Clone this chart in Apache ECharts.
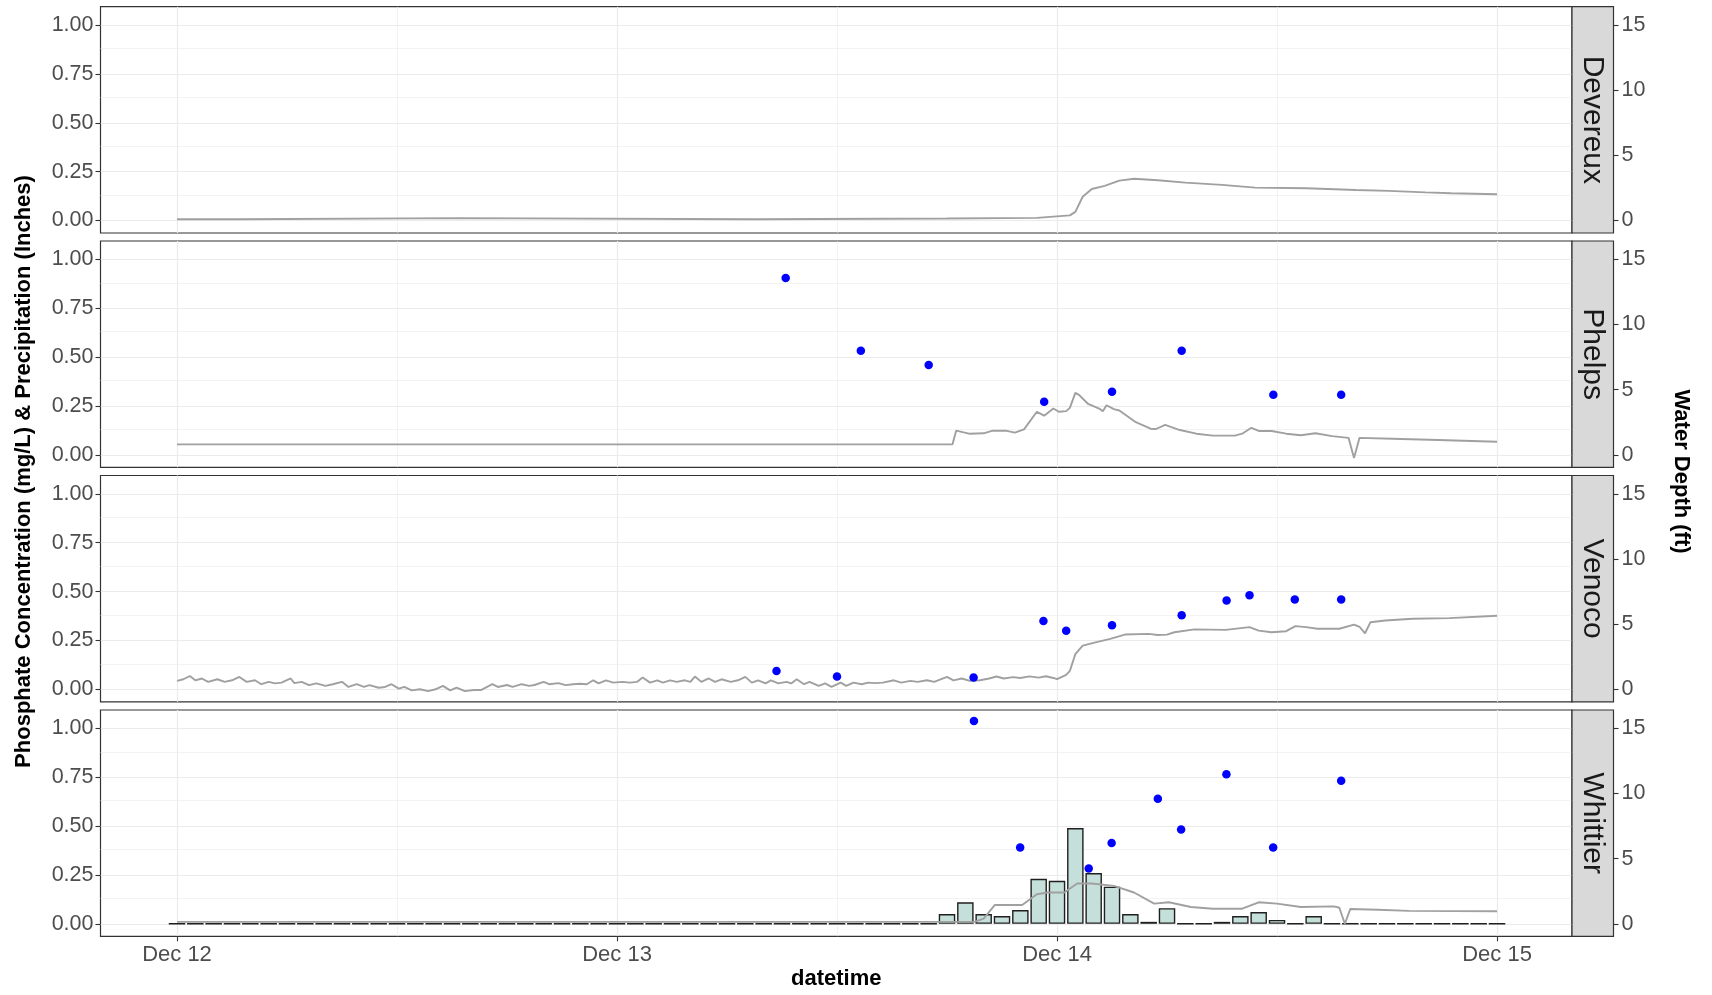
<!DOCTYPE html>
<html><head><meta charset="utf-8">
<script src="https://cdn.jsdelivr.net/npm/echarts@6/dist/echarts.min.js"></script>
<style>html,body{margin:0;padding:0;background:#fff}#c{width:1712px;height:995px}</style>
</head><body><div id="c"></div>
<script>
// ---------------- DATA ----------------
const sites = ['Devereux', 'Phelps', 'Venoco', 'Whittier'];
const xTickHours = [0, 24, 48, 72];            // hours since Dec 12 00:00
const xTickLabels = ['Dec 12', 'Dec 13', 'Dec 14', 'Dec 15'];
const yTicks = [0, 0.25, 0.5, 0.75, 1];
const depthTicks = [0, 5, 10, 15];

// Water depth (ft): [hours since Dec 12 00:00, depth]
const depthDevereux = [[0,0.09],[3.4,0.09],[3.5,0.18],[15.4,0.18],[15.5,0.09],[31.5,0.09],[31.6,0.15],[42,0.15],[46.9,0.2],[47,0.33],[48.7,0.39],[49.0,0.66],[49.4,1.82],[49.9,2.42],[50.6,2.66],[51.4,3.06],[52.2,3.2],[53.5,3.09],[55.0,2.91],[57.0,2.73],[58.8,2.52],[61.6,2.48],[64.3,2.34],[66.1,2.27],[68.1,2.16],[69.5,2.09],[72,2.01]];
const depthPhelps = [[0,0.8],[42.3,0.8],[42.5,1.85],[43.2,1.62],[44,1.65],[44.5,1.85],[45.2,1.85],[45.7,1.7],[46.2,1.95],[46.9,3.3],[47.3,3.0],[47.8,3.55],[48.1,3.3],[48.5,3.35],[48.7,3.6],[49.0,4.75],[49.2,4.6],[49.7,3.9],[50.3,3.55],[50.5,3.35],[50.7,3.8],[51.1,3.5],[51.4,3.4],[52.3,2.5],[53.1,2.0],[53.4,1.98],[53.9,2.3],[54.7,1.9],[55.6,1.62],[56.5,1.47],[57.7,1.47],[58.1,1.62],[58.6,2.07],[59.0,1.83],[59.7,1.83],[60.5,1.62],[61.3,1.5],[62.1,1.65],[63.0,1.43],[63.9,1.3],[64.2,-0.25],[64.5,1.3],[66.3,1.23],[68.8,1.14],[72,1.0]];
const depthVenoco = [[0,0.65],[0.35,0.77],[0.7,1.02],[1.0,0.69],[1.35,0.83],[1.7,0.57],[2.2,0.77],[2.6,0.57],[3.0,0.69],[3.4,0.95],[3.8,0.57],[4.25,0.69],[4.6,0.39],[5.0,0.57],[5.35,0.45],[5.7,0.51],[6.2,0.83],[6.4,0.47],[6.8,0.57],[7.2,0.32],[7.6,0.45],[8.1,0.26],[8.5,0.39],[9.0,0.57],[9.35,0.18],[9.8,0.39],[10.2,0.18],[10.5,0.32],[11.0,0.12],[11.35,0.18],[11.7,0.39],[12.1,0.05],[12.4,0.18],[12.8,-0.08],[13.25,0],[13.7,-0.14],[14.1,0],[14.5,0.26],[14.9,-0.08],[15.25,0.12],[15.7,-0.14],[16.2,-0.05],[16.6,-0.05],[17.2,0.39],[17.5,0.18],[18.0,0.33],[18.3,0.18],[18.8,0.39],[19.2,0.26],[19.5,0.33],[20.0,0.57],[20.3,0.39],[20.8,0.47],[21.2,0.32],[21.6,0.39],[22.0,0.43],[22.35,0.39],[22.7,0.69],[23.0,0.45],[23.4,0.69],[23.8,0.51],[24.3,0.57],[24.7,0.51],[25.1,0.57],[25.4,0.9],[25.8,0.51],[26.2,0.69],[26.5,0.51],[26.9,0.69],[27.25,0.57],[27.7,0.69],[28.0,0.57],[28.25,0.98],[28.6,0.57],[29.0,0.83],[29.35,0.57],[29.7,0.77],[30.2,0.57],[30.6,0.69],[31.0,0.95],[31.35,0.51],[31.7,0.69],[32.1,0.45],[32.4,0.69],[32.8,0.45],[33.25,0.57],[33.5,0.45],[33.8,0.77],[34.2,0.39],[34.5,0.57],[35.0,0.26],[35.35,0.45],[35.7,0.18],[36.2,0.51],[36.5,0.26],[36.9,0.51],[37.35,0.39],[37.7,0.51],[38.1,0.47],[38.5,0.51],[39.1,0.69],[39.5,0.51],[40.0,0.65],[40.4,0.57],[40.9,0.69],[41.3,0.57],[42.0,0.95],[42.35,0.69],[42.8,0.83],[43.25,0.65],[43.8,0.69],[44.3,0.83],[44.7,0.98],[45.1,0.83],[45.6,0.93],[46.0,0.87],[46.5,0.99],[47.0,0.9],[47.4,1.0],[47.8,0.87],[48.0,0.78],[48.5,1.11],[48.7,1.41],[49.0,2.7],[49.4,3.35],[50.1,3.6],[50.9,3.87],[51.7,4.2],[53.0,4.25],[53.5,4.17],[54.0,4.2],[54.4,4.38],[55.5,4.6],[57.2,4.56],[58.5,4.77],[59.0,4.5],[59.7,4.38],[60.5,4.46],[61.0,4.85],[61.6,4.77],[62.2,4.65],[63.4,4.65],[64.2,4.97],[64.5,4.8],[64.8,4.3],[65.1,5.15],[65.9,5.28],[67.4,5.42],[69.4,5.46],[72,5.64]];
const depthWhittier = [[0,0.15],[43.5,0.15],[44.0,0.4],[44.6,1.44],[46.1,1.44],[46.9,2.27],[47.5,2.4],[48.4,2.4],[49.1,3.09],[49.9,3.09],[51.1,2.91],[52.2,2.4],[53.3,1.55],[54.1,1.65],[55.3,1.29],[56.5,1.16],[58.1,1.16],[59.0,1.65],[60.0,1.55],[61.3,1.29],[63.1,1.34],[63.4,1.23],[63.7,0],[64.0,1.14],[65.5,1.08],[67.2,0.99],[72,0.96]];

// Phosphate concentration (mg/L): [hours, value]
const phosDevereux = [];
const phosPhelps = [[33.2,0.905],[37.3,0.533],[41.0,0.46],[47.3,0.271],[51.0,0.322],[54.8,0.533],[59.8,0.307],[63.5,0.307]];
const phosVenoco = [[32.7,0.094],[36.0,0.065],[43.45,0.06],[47.26,0.35],[48.5,0.299],[51.0,0.328],[54.8,0.379],[57.25,0.454],[58.5,0.481],[60.97,0.459],[63.5,0.459]];
const phosWhittier = [[43.47,1.038],[45.99,0.391],[49.73,0.283],[50.98,0.413],[53.5,0.64],[54.77,0.482],[57.24,0.765],[59.79,0.391],[63.5,0.732]];

// Hourly precipitation at Whittier (inches), hours 0..72
const precipWhittier = [0,0,0,0,0,0,0,0,0,0, 0,0,0,0,0,0,0,0,0,0, 0,0,0,0,0,0,0,0,0,0, 0,0,0,0,0,0,0,0,0,0, 0,0,
  0.05,0.11,0.05,0.04,0.07,0.23,0.22,0.49,0.26,0.19,0.05,0.01,0.08,0,0,0.01,0.04,0.06,0.02,0,0.04,
  0,0,0,0,0,0,0,0,0,0];

const depthSeries = [depthDevereux, depthPhelps, depthVenoco, depthWhittier];
const phosSeries = [phosDevereux, phosPhelps, phosVenoco, phosWhittier];
const precipSeries = [null, null, null, precipWhittier];

// ---------------- LAYOUT ----------------
const PL = 100.5, PR = 1572, STRIP = 41.5, PH = 226.3;
const TOPS = [6.7, 241, 475.5, 710];
const XMIN = -4.173, XMAX = 76.09;
const YMIN = -0.064, YMAX = 1.094, DEPTH_SCALE = 15;
const FONT = 'Liberation Sans, Arial, sans-serif';
const tickFont = {fontFamily: FONT, fontSize: 21.5, color: '#4d4d4d'};

const grids = [], xAxes = [], yAxes = [], series = [], graphics = [];
const majorGrid = {color: '#ebebeb', width: 1.2, type: 'solid'};
const minorGrid = {color: '#ebebeb', width: 0.6, type: 'solid'};
const tickStyle = {color: '#333', width: 1.1};

sites.forEach((site, i) => {
  const last = i === sites.length - 1;
  grids.push({left: PL, top: TOPS[i], width: PR - PL, height: PH, show: true,
    borderColor: '#333333', borderWidth: 1.2, backgroundColor: 'transparent',
    outerBoundsMode: 'none', containLabel: false});
  xAxes.push({type: 'value', gridIndex: i, min: XMIN, max: XMAX, position: 'bottom',
    axisLine: {show: false, onZero: false}, splitLine: {show: false},
    axisTick: {show: last, customValues: xTickHours, length: 5, lineStyle: tickStyle},
    axisLabel: {show: last, customValues: xTickHours, margin: 8, ...tickFont, fontSize: 22,
      formatter: v => xTickLabels[xTickHours.indexOf(Math.round(v))] || ''}});
  yAxes.push({type: 'value', gridIndex: i, position: 'left', min: YMIN, max: YMAX,
    axisLine: {show: false, onZero: false}, splitLine: {show: false},
    axisTick: {show: true, customValues: yTicks, length: 5, lineStyle: tickStyle},
    axisLabel: {customValues: yTicks, margin: 7, ...tickFont, formatter: v => v.toFixed(2)}});
  yAxes.push({type: 'value', gridIndex: i, position: 'right', offset: STRIP,
    min: YMIN * DEPTH_SCALE, max: YMAX * DEPTH_SCALE,
    axisLine: {show: false, onZero: false}, splitLine: {show: false},
    axisTick: {show: true, customValues: depthTicks, length: 5, lineStyle: tickStyle},
    axisLabel: {customValues: depthTicks, margin: 8, ...tickFont}});

  // panel grid lines (through the axes' scales)
  const gl = [];
  [0, 24, 48, 72].forEach(v => gl.push({xAxis: v, lineStyle: majorGrid}));
  [12, 36, 60].forEach(v => gl.push({xAxis: v, lineStyle: minorGrid}));
  [0, 0.25, 0.5, 0.75, 1].forEach(v => gl.push({yAxis: v, lineStyle: majorGrid}));
  [0.125, 0.375, 0.625, 0.875].forEach(v => gl.push({yAxis: v, lineStyle: minorGrid}));
  series.push({type: 'line', xAxisIndex: i, yAxisIndex: 2 * i, data: [], z: 0, silent: true,
    markLine: {silent: true, z: 0, symbol: ['none', 'none'], label: {show: false},
      emphasis: {disabled: true}, animation: false, data: gl}});

  if (precipSeries[i]) {
    series.push({type: 'bar', xAxisIndex: i, yAxisIndex: 2 * i, z: 2, barWidth: 16.5,
      data: precipSeries[i].map((v, h) => [h, v]),
      itemStyle: {color: '#c5e0da', borderColor: '#1f1f1f', borderWidth: 1.4, opacity: 1}});
  }
  series.push({type: 'line', xAxisIndex: i, yAxisIndex: 2 * i + 1, z: 3,
    data: depthSeries[i], showSymbol: false, symbol: 'none',
    lineStyle: {color: '#a0a0a0', width: 1.9}});
  series.push({type: 'scatter', xAxisIndex: i, yAxisIndex: 2 * i, z: 4,
    data: phosSeries[i], symbolSize: 8.5, itemStyle: {color: '#0000ff', opacity: 1}});

  // facet strip
  graphics.push({type: 'rect', shape: {x: PR, y: TOPS[i], width: STRIP, height: PH},
    style: {fill: '#d9d9d9', stroke: '#333333', lineWidth: 1.2}, z: 10});
  graphics.push({type: 'text', x: PR + STRIP / 2, y: TOPS[i] + PH / 2, rotation: -Math.PI / 2,
    style: {text: site, fontFamily: FONT, fontSize: 30, fill: '#1a1a1a',
      textAlign: 'center', textVerticalAlign: 'middle'}, z: 11});
});

const midY = (TOPS[0] + TOPS[3] + PH) / 2;
graphics.push({type: 'text', x: 24, y: midY, rotation: Math.PI / 2,
  style: {text: 'Phosphate Concentration (mg/L) & Precipitation (Inches)', fontFamily: FONT,
    fontWeight: 'bold', fontSize: 22, fill: '#000', textAlign: 'center', textVerticalAlign: 'middle'}});
graphics.push({type: 'text', x: 1681, y: midY, rotation: -Math.PI / 2,
  style: {text: 'Water Depth (ft)', fontFamily: FONT, fontWeight: 'bold', fontSize: 22,
    fill: '#000', textAlign: 'center', textVerticalAlign: 'middle'}});
graphics.push({type: 'text', x: (PL + PR) / 2, y: 979,
  style: {text: 'datetime', fontFamily: FONT, fontWeight: 'bold', fontSize: 22,
    fill: '#000', textAlign: 'center', textVerticalAlign: 'middle'}});

const chart = echarts.init(document.getElementById('c'), null, {renderer: 'canvas'});
chart.setOption({
  animation: false,
  backgroundColor: '#ffffff',
  grid: grids, xAxis: xAxes, yAxis: yAxes, series: series,
  graphic: {elements: graphics}
});
</script>
</body></html>
